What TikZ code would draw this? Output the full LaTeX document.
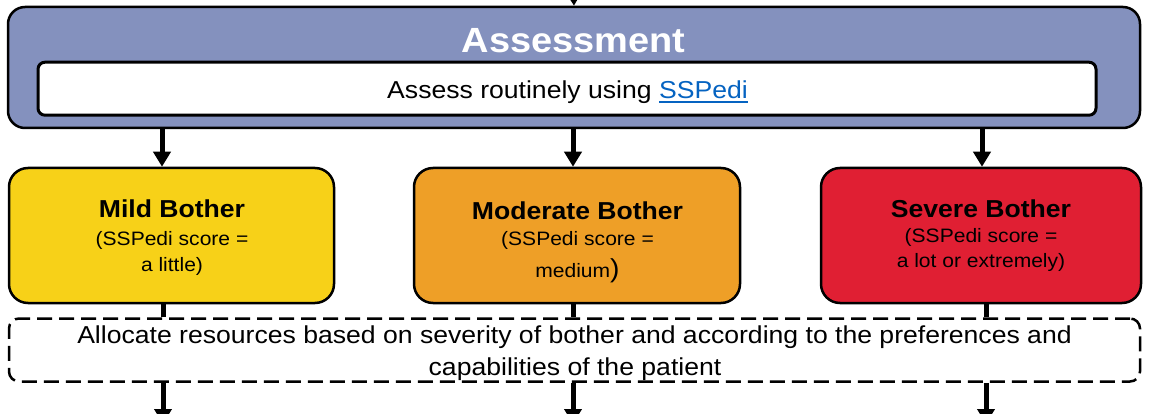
\documentclass[tikz,border=0pt]{standalone}
\usepackage{fontspec}
\setmainfont{Liberation Sans}[FakeStretch=1.085]
\usetikzlibrary{arrows.meta}
\definecolor{assessblue}{RGB}{132,145,190}
\definecolor{mildyellow}{RGB}{247,209,24}
\definecolor{modorange}{RGB}{238,159,39}
\definecolor{sevred}{RGB}{224,31,51}
\definecolor{linkblue}{RGB}{5,99,193}
\newcommand\linkul[1]{\setbox0\hbox{#1}\rlap{\rule[-4.5pt]{\wd0}{1.8pt}}\box0}
\begin{document}
\begin{tikzpicture}[x=1pt,y=-1pt,
  sevbox/.style={draw=black, line width=2.5pt, rounded corners=19pt, minimum width=#1, minimum height=135pt, inner sep=0pt},
  boxtitle/.style={anchor=base, font=\fontsize{24.5}{28}\selectfont\bfseries},
  boxsub/.style={anchor=base, font=\fontsize{19.4}{22}\selectfont},
  bodytext/.style={anchor=base, font=\fontsize{24.5}{28}\selectfont},
  arr/.style={line width=5pt, -{Triangle[width=17pt,length=15pt]}},
  link/.style={line width=5pt}
]
\useasboundingbox (0,0) rectangle (1149,414);
\clip (0,0) rectangle (1149,414);

% assessment
\node[draw=black, line width=2.5pt, fill=assessblue, rounded corners=17pt, minimum width=1132pt, minimum height=121pt, inner sep=0pt] (assess) at (574,67.5) {};
\node[anchor=base, text=white, font=\fontsize{35}{40}\selectfont\bfseries] (atitle) at (573.5,53) {Assessment};
\node[draw=black, line width=3pt, fill=white, rounded corners=7pt, minimum width=1058pt, minimum height=53pt, inner sep=0pt] (inner) at (567,88.7) {};
\node[bodytext] (atext) at (567.5,98.3) {Assess routinely using {\color{linkblue}\linkul{SSPedi}}};

% severity boxes
\node[sevbox=325pt, fill=mildyellow] (mild) at (171.5,235.5) {};
\node[sevbox=326pt, fill=modorange] (moderate) at (577,235.5) {};
\node[sevbox=320pt, fill=sevred] (severe) at (981,235.5) {};

\node[boxtitle] (mildt) at (172,218) {Mild Bother};
\node[boxsub] (milds1) at (172,246) {(SSPedi score =};
\node[boxsub] (milds2) at (172,272) {a little)};

\node[boxtitle] (modt) at (577.5,220) {Moderate Bother};
\node[boxsub] (mods1) at (577.5,246) {(SSPedi score =};
\node[boxsub] (mods2) at (577.5,278) {medium{\fontsize{26}{28}\selectfont)}};

\node[boxtitle] (sevt) at (981,218) {Severe Bother};
\node[boxsub] (sevs1) at (981,243) {(SSPedi score =};
\node[boxsub] (sevs2) at (981,268) {a lot or extremely)};

% allocation
\node[draw=black, line width=2.5pt, dash pattern=on 15pt off 7pt, fill=white, rounded corners=10pt, minimum width=1131pt, minimum height=63pt, inner sep=0pt] (alloc) at (574.5,350) {};
\node[bodytext] (al1) at (574.5,343.5) {Allocate resources based on severity of bother and according to the preferences and};
\node[bodytext] (al2) at (575,375) {capabilities of the patient};

% coordinates
\coordinate (topin) at (573,-30);
\coordinate (ca) at (162,0);
\coordinate (cb) at (573,0);
\coordinate (cc) at (982,0);
\coordinate (da) at (163,0);
\coordinate (db) at (573,0);
\coordinate (dc) at (986,0);
\coordinate (outa) at (163,424);
\coordinate (outb) at (573,424);
\coordinate (outc) at (986,424);

% connectors
\draw[arr] (topin) -- (assess.north);
\draw[arr] (assess.south -| ca) -- (mild.north -| ca);
\draw[arr] (assess.south -| cb) -- (moderate.north -| cb);
\draw[arr] (assess.south -| cc) -- (severe.north -| cc);
\draw[link] (mild.south -| da) -- (alloc.north -| da);
\draw[link] (moderate.south -| db) -- (alloc.north -| db);
\draw[link] (severe.south -| dc) -- (alloc.north -| dc);
\draw[arr] (alloc.south -| da) -- (outa);
\draw[arr] (alloc.south -| db) -- (outb);
\draw[arr] (alloc.south -| dc) -- (outc);
\end{tikzpicture}
\end{document}
